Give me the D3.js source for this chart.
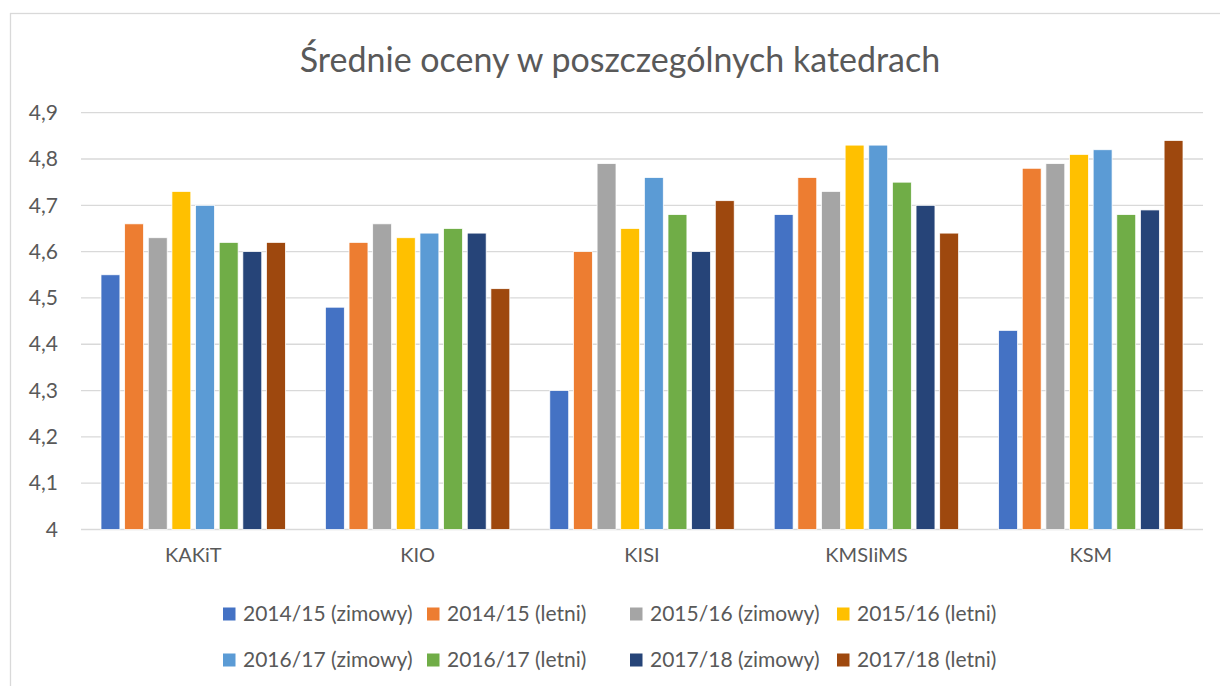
<!DOCTYPE html>
<html>
<head>
<meta charset="utf-8">
<script src="https://cdn.jsdelivr.net/npm/d3@7"></script>
<style>
  html, body { margin: 0; padding: 0; background: #fff; }
  svg { display: block; font-family: Lato, "Open Sans", sans-serif; }
</style>
</head>
<body>
<svg id="chart" width="1220" height="686"></svg>
<script>
const title = "Średnie oceny w poszczególnych katedrach";
const categories = ["KAKiT", "KIO", "KISI", "KMSIiMS", "KSM"];
const seriesNames = [
  "2014/15 (zimowy)", "2014/15 (letni)", "2015/16 (zimowy)", "2015/16 (letni)",
  "2016/17 (zimowy)", "2016/17 (letni)", "2017/18 (zimowy)", "2017/18 (letni)"
];
const colors = ["#4472C4", "#ED7D31", "#A5A5A5", "#FFC000", "#5B9BD5", "#70AD47", "#264478", "#9E480E"];
// values per series, in category order
const s2014z = [4.55, 4.48, 4.30, 4.68, 4.43];
const s2014l = [4.66, 4.62, 4.60, 4.76, 4.78];
const s2015z = [4.63, 4.66, 4.79, 4.73, 4.79];
const s2015l = [4.73, 4.63, 4.65, 4.83, 4.81];
const s2016z = [4.70, 4.64, 4.76, 4.83, 4.82];
const s2016l = [4.62, 4.65, 4.68, 4.75, 4.68];
const s2017z = [4.60, 4.64, 4.60, 4.70, 4.69];
const s2017l = [4.62, 4.52, 4.71, 4.64, 4.84];
const seriesValues = [s2014z, s2014l, s2015z, s2015l, s2016z, s2016l, s2017z, s2017l];
const yTicks = [4, 4.1, 4.2, 4.3, 4.4, 4.5, 4.6, 4.7, 4.8, 4.9];
const yTickLabels = ["4", "4,1", "4,2", "4,3", "4,4", "4,5", "4,6", "4,7", "4,8", "4,9"];

const svg = d3.select("#chart");
const textColor = "#595959";
const gridColor = "#d9d9d9";

// outer chart border (cut off at right/bottom)
svg.append("rect")
  .attr("x", 10.5).attr("y", 13.5)
  .attr("width", 1230).attr("height", 700)
  .attr("fill", "none").attr("stroke", gridColor).attr("stroke-width", 1.3);

const plot = { left: 81, right: 1203, top: 112.7, bottom: 529.5 };

const y = d3.scaleLinear().domain([4, 4.9]).range([plot.bottom, plot.top]);
const x0 = d3.scaleBand().domain(categories).range([plot.left, plot.right]).padding(0);
const x1 = d3.scaleBand().domain(seriesNames).range([20, x0.bandwidth() - 20]).paddingInner(0.2).paddingOuter(0);

// title
svg.append("text")
  .attr("x", 620).attr("y", 72)
  .attr("text-anchor", "middle")
  .attr("fill", textColor)
  .attr("font-size", 34)
  .text(title);

// gridlines
svg.append("g").selectAll("line")
  .data(yTicks)
  .join("line")
  .attr("x1", plot.left).attr("x2", plot.right)
  .attr("y1", d => y(d)).attr("y2", d => y(d))
  .attr("stroke", gridColor).attr("stroke-width", 1.3);

// y axis labels
const yAxis = d3.axisLeft(y).tickValues(yTicks)
  .tickFormat((d, i) => yTickLabels[i]).tickSize(0).tickPadding(0);
const yg = svg.append("g").attr("transform", `translate(58,0)`).call(yAxis);
yg.select(".domain").remove();
yg.selectAll("text").attr("fill", textColor).attr("font-size", 21).attr("font-family", "Lato, sans-serif");

// bars
const groups = svg.append("g").selectAll("g")
  .data(categories)
  .join("g")
  .attr("transform", d => `translate(${x0(d)},0)`);

groups.selectAll("rect")
  .data((c, ci) => seriesNames.map((s, si) => ({ s, si, v: seriesValues[si][ci] })))
  .join("rect")
  .attr("x", d => x1(d.s))
  .attr("width", x1.bandwidth())
  .attr("y", d => y(d.v))
  .attr("height", d => y(4) - y(d.v))
  .attr("fill", d => colors[d.si])
  .attr("stroke", "#fff").attr("stroke-width", 0.75);

// category axis labels
const xAxis = d3.axisBottom(x0).tickSize(0).tickPadding(0);
const xg = svg.append("g").attr("transform", `translate(0,${plot.bottom + 18})`).call(xAxis);
xg.select(".domain").remove();
xg.selectAll("text").attr("fill", textColor).attr("font-size", 20).attr("font-family", "Lato, sans-serif");

// legend
const legendCols = [223, 427, 630, 837];
const legendRows = [614, 660];
const legend = svg.append("g").selectAll("g")
  .data(seriesNames)
  .join("g")
  .attr("transform", (d, i) => `translate(${legendCols[i % 4]},${legendRows[Math.floor(i / 4)]})`);
legend.append("rect")
  .attr("x", 0).attr("y", -6.5).attr("width", 12.5).attr("height", 13)
  .attr("fill", (d, i) => colors[i]);
legend.append("text")
  .attr("x", 20).attr("y", 0).attr("dy", "0.35em")
  .attr("fill", textColor).attr("font-size", 21)
  .text(d => d);
</script>
</body>
</html>
